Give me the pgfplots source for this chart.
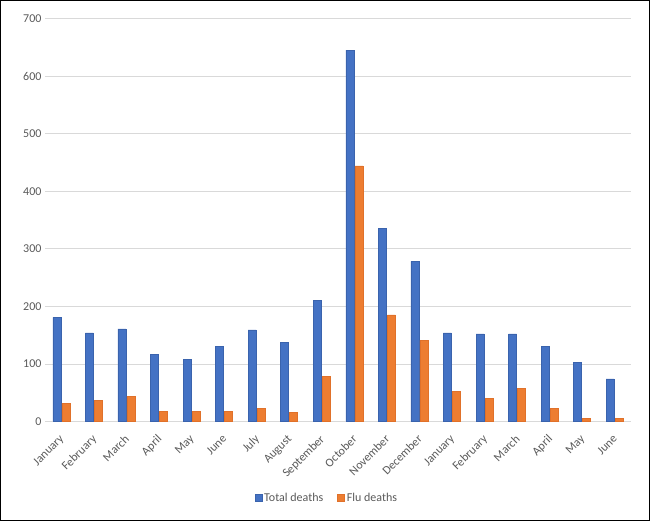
\documentclass[border=0pt]{standalone}
\usepackage{fontspec}
\setmainfont{Carlito}
\usepackage{pgfplots}
\pgfplotsset{compat=1.18}
\definecolor{tblue}{HTML}{4472C4}
\definecolor{tblueb}{HTML}{3A63AD}
\definecolor{torange}{HTML}{ED7D31}
\definecolor{toranged}{HTML}{E0712A}
\definecolor{tgrid}{HTML}{D9D9D9}
\definecolor{ttext}{HTML}{595959}
\begin{document}
\begin{tikzpicture}
\draw[line width=1pt, black] (0.5pt,0.5pt) rectangle (649.5pt,520.5pt);
\begin{axis}[
  at={(45pt,99.5pt)}, anchor=south west,
  scale only axis, width=586pt, height=403pt,
  ybar=1pt, bar width=8pt,
  xmin=-0.5, xmax=17.5, ymin=0, ymax=700,
  xtick={0,...,17},
  xticklabels={January,February,March,April,May,June,July,August,September,October,November,December,January,February,March,April,May,June},
  x tick label style={rotate=45, anchor=north east, font=\fontsize{12}{14}\selectfont, text=ttext, inner sep=1pt, xshift=-9.5pt, yshift=-6pt},
  ytick={0,100,...,700},
  y tick label style={font=\fontsize{12}{14}\selectfont, text=ttext},
  /pgf/number format/assume math mode=true,
  ymajorgrids, grid style={tgrid, line width=0.8pt},
  major tick length=0pt,
  axis line style={draw=none},
  axis x line*=bottom, axis y line*=left,
  x axis line style={draw=tgrid, line width=0.8pt},
  y axis line style={draw=none},
  legend style={at={(0.481,-0.19)}, anchor=center, draw=none, fill=none,
    font=\fontsize{12}{14}\selectfont, text=ttext, legend columns=2,
    /tikz/every even column/.append style={column sep=12pt}},
  legend image code/.code={\fill[#1] (0pt,-3.5pt) rectangle (7pt,3.5pt);},
]
\addplot[fill=tblue, draw=tblueb, line width=0.5pt] coordinates {
(0,181) (1,154) (2,161) (3,117) (4,108) (5,130) (6,159) (7,137) (8,210)
(9,645) (10,336) (11,278) (12,154) (13,152) (14,152) (15,130) (16,103) (17,74)};
\addplot[fill=torange, draw=toranged, line width=0.5pt] coordinates {
(0,32) (1,37) (2,44) (3,17) (4,17) (5,17) (6,23) (7,16) (8,79)
(9,444) (10,185) (11,141) (12,52) (13,40) (14,57) (15,23) (16,6) (17,6)};
\legend{Total deaths, Flu deaths}
\end{axis}
\end{tikzpicture}
\end{document}
